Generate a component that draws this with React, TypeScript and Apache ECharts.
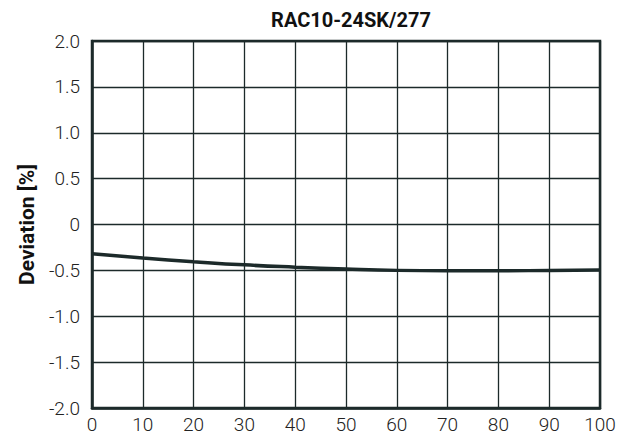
import React, { useEffect, useRef } from "react";
import * as echarts from "echarts";

const xValues = [0, 10, 20, 30, 40, 50, 60, 70, 80, 90, 100];
const deviation = [-0.32, -0.365, -0.405, -0.44, -0.465, -0.485, -0.5, -0.505, -0.505, -0.5, -0.495];
const yTicks = ["-2.0", "-1.5", "-1.0", "-0.5", "0", "0.5", "1.0", "1.5", "2.0"];

const INK = "#1c2a2a";
const FONT = "Roboto, 'Liberation Sans', Arial, sans-serif";

export default function App() {
  const ref = useRef<HTMLDivElement>(null);
  useEffect(() => {
    const chart = echarts.init(ref.current!, null, { renderer: "svg" });
    chart.setOption({
      animation: false,
      title: {
        text: "RAC10-24SK/277",
        left: 346,
        top: 5,
        textAlign: "center",
        textStyle: { fontFamily: FONT, fontSize: 20, fontWeight: "bold", color: "#111" },
      },
      grid: { left: 92, right: 25, top: 41, bottom: 33 },
      xAxis: {
        type: "value",
        min: 0,
        max: 100,
        interval: 10,
        axisLine: { show: true, onZero: false, lineStyle: { color: INK, width: 2.5 } },
        axisTick: { show: false },
        axisLabel: { fontFamily: FONT, fontSize: 19, fontWeight: 300, color: "#222", margin: 7 },
        splitLine: { show: true, lineStyle: { color: INK, width: 1.3 } },
      },
      yAxis: {
        type: "value",
        min: -2,
        max: 2,
        interval: 0.5,
        name: "Deviation [%]",
        nameLocation: "middle",
        nameGap: 55,
        nameTextStyle: { fontFamily: FONT, fontSize: 21, fontWeight: "bold", color: "#111" },
        axisLine: { show: true, onZero: false, lineStyle: { color: INK, width: 2.5 } },
        axisTick: { show: false },
        axisLabel: {
          fontFamily: FONT,
          fontSize: 19,
          fontWeight: 300,
          color: "#222",
          margin: 12,
          formatter: (v: number) => {
            const i = Math.round((v + 2) / 0.5);
            return yTicks[i] ?? String(v);
          },
        },
        splitLine: { show: true, lineStyle: { color: INK, width: 1.3 } },
      },
      graphic: [
        {
          type: "rect",
          shape: { x: 92, y: 41, width: 508, height: 367 },
          style: { fill: "none", stroke: INK, lineWidth: 2.5 },
          silent: true,
          z: 10,
        },
      ],
      series: [
        {
          type: "line",
          data: xValues.map((x, i) => [x, deviation[i]]),
          smooth: true,
          showSymbol: false,
          lineStyle: { color: INK, width: 3.5 },
          z: 5,
        },
      ],
    });
    return () => chart.dispose();
  }, []);
  return (
    <div
      ref={ref}
      style={{ position: "fixed", left: 0, top: 0, width: 625, height: 441, background: "#fff" }}
    />
  );
}
